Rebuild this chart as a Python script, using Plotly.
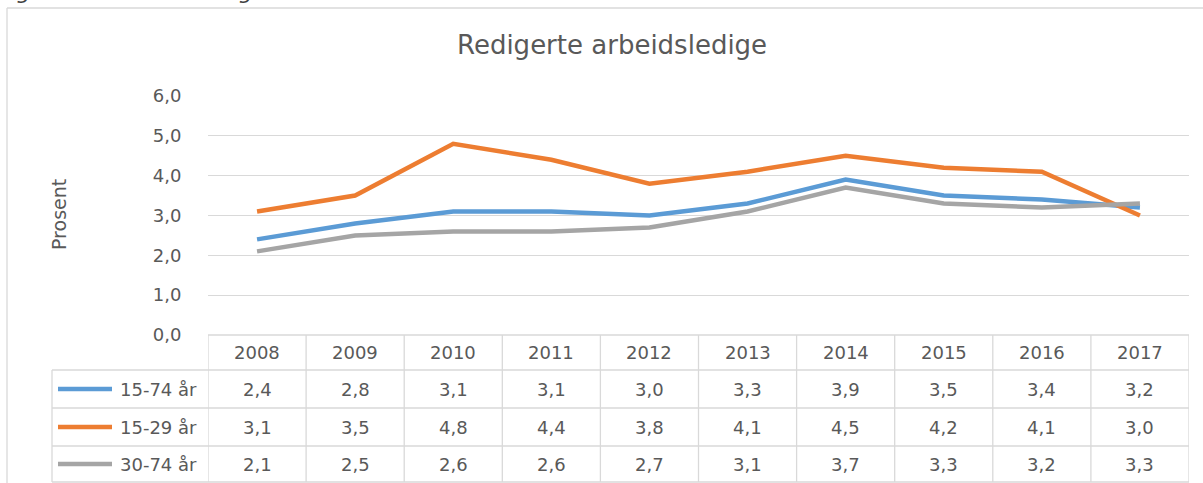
import plotly.graph_objects as go

years = ["2008", "2009", "2010", "2011", "2012", "2013", "2014", "2015", "2016", "2017"]
s_15_74 = [2.4, 2.8, 3.1, 3.1, 3.0, 3.3, 3.9, 3.5, 3.4, 3.2]
s_15_29 = [3.1, 3.5, 4.8, 4.4, 3.8, 4.1, 4.5, 4.2, 4.1, 3.0]
s_30_74 = [2.1, 2.5, 2.6, 2.6, 2.7, 3.1, 3.7, 3.3, 3.2, 3.3]
series_names = ["15-74 år", "15-29 år", "30-74 år"]
series_values = [s_15_74, s_15_29, s_30_74]
series_colors = ["#5B9BD5", "#ED7D31", "#A5A5A5"]
title_text = "Redigerte arbeidsledige"
y_title = "Prosent"
caption_text = "Registrerte arbeidsledige"

W, H = 1203, 483
def px(x):
    return x / W
def py(y):
    return 1 - y / H

FONT = "DejaVu Sans"
TXT = "#595959"
GRID = "#D9D9D9"

fig = go.Figure()
for name, vals, col in zip(series_names, series_values, series_colors):
    fig.add_trace(go.Scatter(x=years, y=vals, mode="lines", name=name,
                             line=dict(color=col, width=4.5), hoverinfo="x+y+name"))

shapes = []
annotations = []

# outer chart border (top + left)
shapes.append(dict(type="line", xref="paper", yref="paper", x0=px(7), x1=px(1203), y0=py(8), y1=py(8),
                   line=dict(color=GRID, width=1.3)))
shapes.append(dict(type="line", xref="paper", yref="paper", x0=px(7), x1=px(7), y0=py(8), y1=py(483),
                   line=dict(color=GRID, width=1.3)))

# data table
row_edges = [335, 370, 408, 446, 482]
n = len(years)
for i in range(n + 1):
    shapes.append(dict(type="line", xref="x", yref="paper", x0=i - 0.5, x1=i - 0.5,
                       y0=py(row_edges[0]), y1=py(row_edges[-1]), line=dict(color=GRID, width=1.3)))
shapes.append(dict(type="line", xref="paper", yref="paper", x0=px(52), x1=px(52),
                   y0=py(row_edges[1]), y1=py(row_edges[-1]), line=dict(color=GRID, width=1.3)))
for k, ye in enumerate(row_edges):
    if k == 0:
        shapes.append(dict(type="line", xref="x", yref="paper", x0=-0.5, x1=n - 0.5,
                           y0=py(ye), y1=py(ye), line=dict(color=GRID, width=1.3)))
    else:
        shapes.append(dict(type="line", xref="paper", yref="paper", x0=px(52), x1=px(1189),
                           y0=py(ye), y1=py(ye), line=dict(color=GRID, width=1.3)))

cell_font = dict(family=FONT, size=18, color=TXT)
hdr_y = (row_edges[0] + row_edges[1]) / 2
for i, yr in enumerate(years):
    annotations.append(dict(x=i, y=py(hdr_y), xref="x", yref="paper", text=yr, showarrow=False,
                            xanchor="center", yanchor="middle", font=cell_font))
for r, (name, vals, col) in enumerate(zip(series_names, series_values, series_colors)):
    yc = (row_edges[r + 1] + row_edges[r + 2]) / 2
    shapes.append(dict(type="line", xref="paper", yref="paper", x0=px(58), x1=px(112),
                       y0=py(yc), y1=py(yc), line=dict(color=col, width=4.5)))
    annotations.append(dict(x=px(199), y=py(yc), xref="paper", yref="paper", text=name,
                            xanchor="right", yanchor="middle", showarrow=False, font=cell_font))
    for i, v in enumerate(vals):
        annotations.append(dict(x=i, y=py(yc), xref="x", yref="paper",
                                text=f"{v:.1f}".replace(".", ","), showarrow=False,
                                xanchor="center", yanchor="middle", font=cell_font))

# title
annotations.append(dict(x=px(612), y=py(45), xref="paper", yref="paper", text=title_text,
                        xanchor="center", yanchor="middle",
                        showarrow=False, font=dict(family=FONT, size=26, color=TXT)))
# y axis title
annotations.append(dict(x=px(59), y=py(215), xref="paper", yref="paper", text=y_title,
                        xanchor="center", yanchor="middle",
                        textangle=-90, showarrow=False, font=dict(family=FONT, size=19, color=TXT)))
# clipped caption at top
annotations.append(dict(x=px(-14), y=py(6), xref="paper", yref="paper", text=caption_text,
                        xanchor="left", yanchor="bottom", showarrow=False,
                        font=dict(family=FONT, size=22, color="#404040", style="italic")))

fig.update_layout(
    width=W, height=H,
    margin=dict(l=0, r=0, t=0, b=0, pad=0, autoexpand=False),
    paper_bgcolor="white", plot_bgcolor="white",
    showlegend=False,
    separators=", ",
    shapes=shapes, annotations=annotations,
    xaxis=dict(domain=[px(208), px(1189)], type="category", range=[-0.5, n - 0.5], automargin=False,
               showgrid=False, showticklabels=False, zeroline=False, showline=False, ticks=""),
    yaxis=dict(domain=[py(335), py(96)], range=[0, 6], dtick=1, tickformat=".1f", automargin=False,
               showgrid=True, gridcolor=GRID, gridwidth=1.3, zeroline=False, showline=False,
               ticks="outside", ticklen=22, tickcolor="rgba(0,0,0,0)",
               tickfont=dict(family=FONT, size=18, color=TXT)),
)

post = (
    "document.documentElement.style.margin='0';document.documentElement.style.padding='0';"
    "document.documentElement.style.overflow='hidden';"
    "document.body.style.margin='0';document.body.style.padding='0';document.body.style.overflow='hidden';"
    "var gd=document.getElementById('{plot_id}');"
    "gd.style.position='fixed';gd.style.top='0px';gd.style.left='0px';"
)
fig.write_html("out.html", config={"displayModeBar": False}, post_script=post)
